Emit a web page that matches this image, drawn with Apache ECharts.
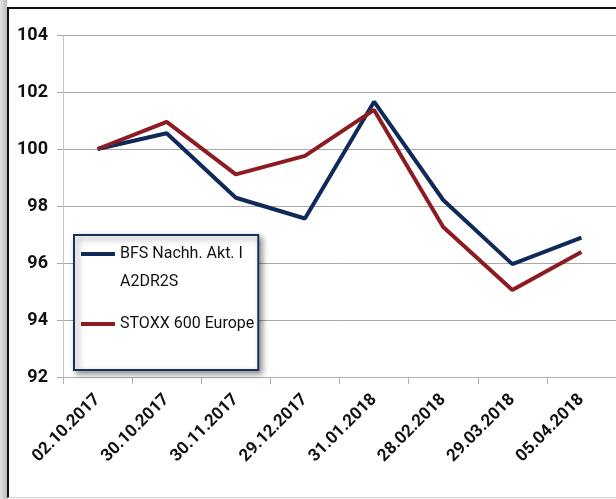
<!DOCTYPE html>
<html>
<head>
<meta charset="utf-8">
<script src="https://cdn.jsdelivr.net/npm/echarts@6/dist/echarts.min.js"></script>
<style>
html,body{margin:0;padding:0;background:#fff;}
#wrap{position:relative;width:616px;height:499px;overflow:hidden;background:#fff;}
#shade{position:absolute;left:0;top:0;width:7px;height:499px;background:linear-gradient(to right,#e4e4e4,#bdbdbd);}
#frame{position:absolute;left:7px;top:7px;width:640px;height:488px;border-top:2px solid #111;border-left:2px solid #111;border-bottom:1px solid #d0d0d0;}
#main{position:absolute;left:0;top:0;width:616px;height:499px;}
</style>
</head>
<body>
<div id="wrap">
<div id="shade"></div>
<div id="frame"></div>
<div id="main"></div>
</div>
<script>
var dates = ['02.10.2017','30.10.2017','30.11.2017','29.12.2017','31.01.2018','28.02.2018','29.03.2018','05.04.2018'];
var seriesNames = ['BFS Nachh. Akt. I\nA2DR2S','STOXX 600 Europe'];
var bfsValues = [100, 100.55, 98.29, 97.56, 101.66, 98.21, 95.96, 96.89];
var stoxxValues = [100, 100.95, 99.11, 99.76, 101.37, 97.26, 95.05, 96.39];
var yTicks = {min: 92, max: 104, interval: 2};

var dom = document.getElementById('main');
var myChart = echarts.init(dom);
var font = '"Roboto", sans-serif';

var option = {
    animation: false,
    backgroundColor: 'transparent',
    grid: {
        left: 63,
        top: 35,
        right: -7,
        bottom: 122
    },
    legend: {
        orient: 'vertical',
        left: 74,
        top: 235,
        itemGap: 0,
        itemWidth: 34,
        itemHeight: 56,
        padding: [5, 4, 18, 7],
        backgroundColor: '#fff',
        borderColor: '#1a2f5a',
        borderWidth: 2,
        borderRadius: 0,
        shadowBlur: 6,
        shadowColor: 'rgba(0,0,0,0.45)',
        shadowOffsetX: 3,
        shadowOffsetY: 3,
        selectedMode: false,
        textStyle: {
            fontFamily: font,
            fontSize: 16,
            color: '#111',
            lineHeight: 28
        },
        data: [
            {name: seriesNames[0], icon: 'path://M0,12L34,12L34,16L0,16Z M0,0L0.01,0L0.01,0.01Z M0,56L0.01,56L0.01,55.99Z'},
            {name: seriesNames[1], icon: 'path://M0,26L34,26L34,30L0,30Z M0,0L0.01,0L0.01,0.01Z M0,56L0.01,56L0.01,55.99Z'}
        ]
    },
    xAxis: {
        type: 'category',
        data: dates,
        boundaryGap: true,
        axisLine: {lineStyle: {color: '#b0b0b0', width: 1}},
        axisTick: {show: true, length: 7, lineStyle: {color: '#b0b0b0'}},
        axisLabel: {
            rotate: 45,
            margin: 20,
            color: '#111',
            fontFamily: font,
            fontWeight: 'bold',
            fontSize: 17
        }
    },
    yAxis: {
        type: 'value',
        min: yTicks.min,
        max: yTicks.max,
        interval: yTicks.interval,
        axisLine: {show: true, lineStyle: {color: '#c4c4c4', width: 1}},
        axisTick: {show: true, length: 6, lineStyle: {color: '#a8a8a8'}},
        splitLine: {show: true, lineStyle: {color: '#a8a8a8', width: 1}},
        axisLabel: {
            margin: 15,
            color: '#111',
            fontFamily: font,
            fontWeight: 'bold',
            fontSize: 18
        }
    },
    series: [{
        name: seriesNames[0],
        type: 'line',
        data: bfsValues,
        symbol: 'none',
        lineStyle: {color: '#0f2a5a', width: 4},
        itemStyle: {color: '#0f2a5a'}
    }, {
        name: seriesNames[1],
        type: 'line',
        data: stoxxValues,
        symbol: 'none',
        lineStyle: {color: '#8c1c22', width: 4},
        itemStyle: {color: '#8c1c22'}
    }]
};

myChart.setOption(option);
window.addEventListener('resize', function(){
    myChart.resize();
});
</script>
</body>
</html>
